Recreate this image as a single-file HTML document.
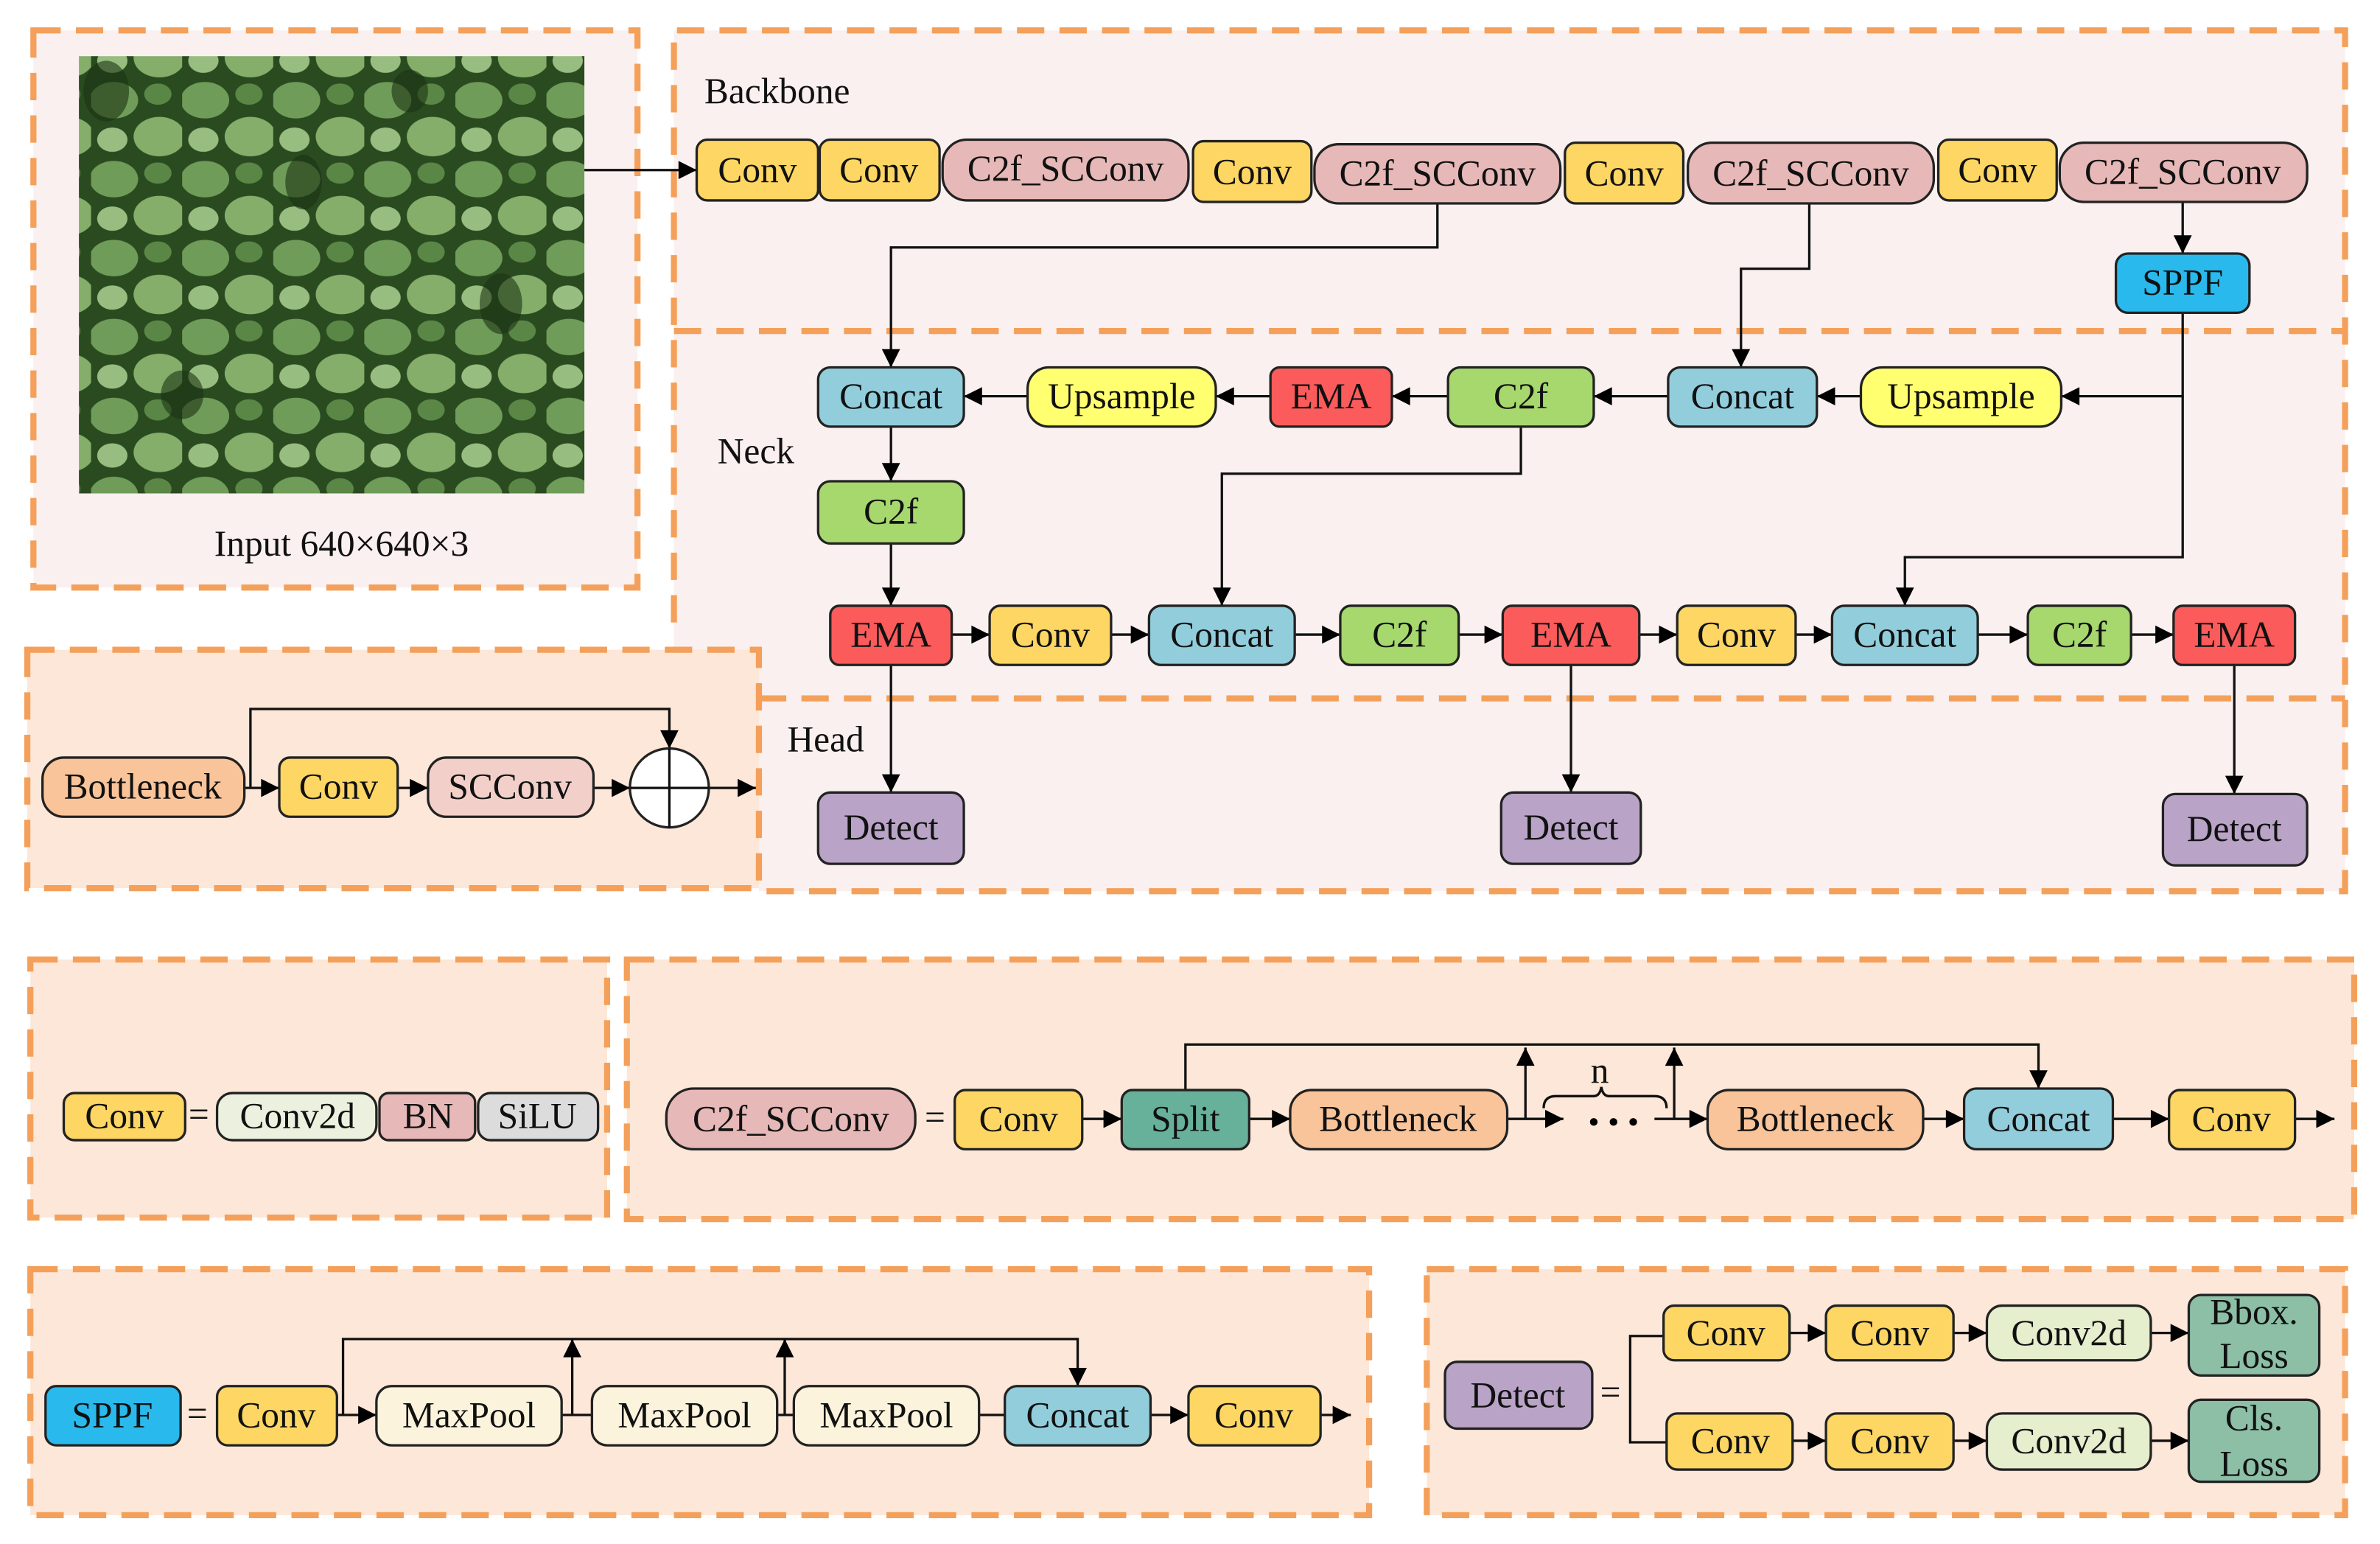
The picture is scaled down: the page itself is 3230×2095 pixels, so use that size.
<!DOCTYPE html>
<html><head><meta charset="utf-8"><style>
html,body{margin:0;padding:0;background:#fff;}
svg{display:block;}
text{font-family:"Liberation Serif",serif;font-size:24px;fill:#111;text-anchor:middle;dominant-baseline:central;}
.b{stroke:#222;stroke-width:1.6;}
.l{stroke:#111;stroke-width:1.6;fill:none;}
.d{fill:none;stroke:#f4a05a;stroke-width:4;stroke-dasharray:18 10;}
</style></head><body>
<svg width="3230" height="2095" viewBox="0 0 1568 1017" preserveAspectRatio="none" xmlns="http://www.w3.org/2000/svg">
<defs>
<marker id="A" viewBox="0 0 10 10" refX="10" refY="5" markerWidth="14" markerHeight="12" markerUnits="userSpaceOnUse" orient="auto"><path d="M0,0L10,5L0,10z" fill="#000"/></marker>
<pattern id="leaf" width="60" height="52" patternUnits="userSpaceOnUse">
<rect width="60" height="52" fill="#2a4a20"/>
<ellipse cx="15" cy="14" rx="16" ry="12" fill="#6f9c58"/>
<ellipse cx="45" cy="38" rx="17" ry="13" fill="#84ae6a"/>
<ellipse cx="44" cy="10" rx="9" ry="7" fill="#5a8746"/>
<ellipse cx="14" cy="40" rx="10" ry="8" fill="#98bd80"/>
</pattern>
</defs>
<rect x="22" y="20" width="398" height="367" fill="#f9f0ef"/>
<path d="M444,20H1545V587H500V460H444Z" fill="#f9f0ef"/>
<rect x="18" y="428" width="482" height="157" fill="#fce7d8"/>
<rect x="20" y="632" width="380" height="170" fill="#fce7d8"/>
<rect x="413" y="632" width="1138" height="171" fill="#fce7d8"/>
<rect x="20" y="836" width="882" height="162" fill="#fce7d8"/>
<rect x="940" y="836" width="605" height="162" fill="#fce7d8"/>
<rect class="d" x="22" y="20" width="398" height="367"/>
<path class="d" d="M444,410V20H1545V587H500"/>
<path class="d" d="M444,218H1545"/>
<path class="d" d="M500,460H1545"/>
<rect class="d" x="18" y="428" width="482" height="157"/>
<rect class="d" x="20" y="632" width="380" height="170"/>
<rect class="d" x="413" y="632" width="1138" height="171"/>
<rect class="d" x="20" y="836" width="882" height="162"/>
<rect class="d" x="940" y="836" width="605" height="162"/>
<rect x="52" y="37" width="333" height="288" fill="url(#leaf)"/>
<g fill="#1c3314" opacity="0.6">
<ellipse cx="70" cy="60" rx="15" ry="20"/><ellipse cx="200" cy="120" rx="12" ry="18"/><ellipse cx="330" cy="200" rx="14" ry="20"/><ellipse cx="120" cy="260" rx="14" ry="16"/><ellipse cx="270" cy="60" rx="12" ry="14"/>
</g>
<text x="225" y="358">Input  640×640×3</text>
<text x="512" y="60">Backbone</text>
<text x="498" y="297">Neck</text>
<text x="544" y="487">Head</text>

<path class="l" d="M385,112H459" marker-end="url(#A)"/>
<path class="l" d="M947,134V163H587V242" marker-end="url(#A)"/>
<path class="l" d="M1192,134V177H1147V242" marker-end="url(#A)"/>
<path class="l" d="M1438,133V167" marker-end="url(#A)"/>
<path class="l" d="M1438,206V261H1358" marker-end="url(#A)"/>
<path class="l" d="M1438,261V367H1255V399" marker-end="url(#A)"/>
<path class="l" d="M1226,261H1197" marker-end="url(#A)"/>
<path class="l" d="M1099,261H1050" marker-end="url(#A)"/>
<path class="l" d="M954,261H917" marker-end="url(#A)"/>
<path class="l" d="M837,261H801" marker-end="url(#A)"/>
<path class="l" d="M677,261H635" marker-end="url(#A)"/>
<path class="l" d="M1002,281V312H805V399" marker-end="url(#A)"/>
<path class="l" d="M587,281V317" marker-end="url(#A)"/>
<path class="l" d="M587,358V399" marker-end="url(#A)"/>
<path class="l" d="M627,418H652" marker-end="url(#A)"/>
<path class="l" d="M732,418H757" marker-end="url(#A)"/>
<path class="l" d="M853,418H883" marker-end="url(#A)"/>
<path class="l" d="M961,418H990" marker-end="url(#A)"/>
<path class="l" d="M1080,418H1105" marker-end="url(#A)"/>
<path class="l" d="M1183,418H1207" marker-end="url(#A)"/>
<path class="l" d="M1303,418H1336" marker-end="url(#A)"/>
<path class="l" d="M1404,418H1432" marker-end="url(#A)"/>
<path class="l" d="M587,438V522" marker-end="url(#A)"/>
<path class="l" d="M1035,438V522" marker-end="url(#A)"/>
<path class="l" d="M1472,438V523" marker-end="url(#A)"/>

<g class="b">
<rect x="459" y="92" width="80" height="40" rx="7" fill="#fdd663"/>
<rect x="540" y="92" width="79" height="40" rx="7" fill="#fdd663"/>
<rect x="621" y="92" width="162" height="40" rx="16" fill="#e6b8b7"/>
<rect x="786" y="93" width="78" height="40" rx="7" fill="#fdd663"/>
<rect x="866" y="95" width="162" height="39" rx="16" fill="#e6b8b7"/>
<rect x="1031" y="94" width="78" height="40" rx="7" fill="#fdd663"/>
<rect x="1112" y="94" width="162" height="40" rx="16" fill="#e6b8b7"/>
<rect x="1277" y="92" width="78" height="40" rx="7" fill="#fdd663"/>
<rect x="1357" y="94" width="163" height="39" rx="16" fill="#e6b8b7"/>
<rect x="1394" y="167" width="88" height="39" rx="8" fill="#29b9ec"/>
<rect x="539" y="242" width="96" height="39" rx="8" fill="#92cddc"/>
<rect x="677" y="242" width="124" height="39" rx="14" fill="#ffff70"/>
<rect x="837" y="242" width="80" height="39" rx="6" fill="#fb5b5b"/>
<rect x="954" y="242" width="96" height="39" rx="8" fill="#a6d86e"/>
<rect x="1099" y="242" width="98" height="39" rx="8" fill="#92cddc"/>
<rect x="1226" y="242" width="132" height="39" rx="14" fill="#ffff70"/>
<rect x="539" y="317" width="96" height="41" rx="8" fill="#a6d86e"/>
<rect x="547" y="399" width="80" height="39" rx="6" fill="#fb5b5b"/>
<rect x="652" y="399" width="80" height="39" rx="7" fill="#fdd663"/>
<rect x="757" y="399" width="96" height="39" rx="8" fill="#92cddc"/>
<rect x="883" y="399" width="78" height="39" rx="7" fill="#a6d86e"/>
<rect x="990" y="399" width="90" height="39" rx="6" fill="#fb5b5b"/>
<rect x="1105" y="399" width="78" height="39" rx="7" fill="#fdd663"/>
<rect x="1207" y="399" width="96" height="39" rx="8" fill="#92cddc"/>
<rect x="1336" y="399" width="68" height="39" rx="7" fill="#a6d86e"/>
<rect x="1432" y="399" width="80" height="39" rx="6" fill="#fb5b5b"/>
<rect x="539" y="522" width="96" height="47" rx="8" fill="#b9a4c7"/>
<rect x="989" y="522" width="92" height="47" rx="8" fill="#b9a4c7"/>
<rect x="1425" y="523" width="95" height="47" rx="8" fill="#b9a4c7"/>
</g>
<text x="499" y="112">Conv</text><text x="579" y="112">Conv</text><text x="702" y="111">C2f_SCConv</text>
<text x="825" y="113">Conv</text><text x="947" y="114">C2f_SCConv</text><text x="1070" y="114">Conv</text>
<text x="1193" y="114">C2f_SCConv</text><text x="1316" y="112">Conv</text><text x="1438" y="113">C2f_SCConv</text>
<text x="1438" y="186">SPPF</text>
<text x="587" y="261">Concat</text><text x="739" y="261">Upsample</text><text x="877" y="261">EMA</text><text x="1002" y="261">C2f</text>
<text x="1148" y="261">Concat</text><text x="1292" y="261">Upsample</text><text x="587" y="337">C2f</text>
<text x="587" y="418">EMA</text><text x="692" y="418">Conv</text><text x="805" y="418">Concat</text><text x="922" y="418">C2f</text>
<text x="1035" y="418">EMA</text><text x="1144" y="418">Conv</text><text x="1255" y="418">Concat</text><text x="1370" y="418">C2f</text><text x="1472" y="418">EMA</text>
<text x="587" y="545">Detect</text><text x="1035" y="545">Detect</text><text x="1472" y="546">Detect</text>

<path class="l" d="M161,519H184" marker-end="url(#A)"/>
<path class="l" d="M262,519H282" marker-end="url(#A)"/>
<path class="l" d="M391,519H415" marker-end="url(#A)"/>
<path class="l" d="M467,519H498" marker-end="url(#A)"/>
<path class="l" d="M165,519V467H441V493" marker-end="url(#A)"/>
<g class="b">
<rect x="28" y="499" width="133" height="39" rx="14" fill="#f9c49a"/>
<rect x="184" y="499" width="78" height="39" rx="7" fill="#fdd663"/>
<rect x="282" y="499" width="109" height="39" rx="12" fill="#f2d0c9"/>
<ellipse cx="441" cy="519" rx="26" ry="26" fill="#fff"/>
</g>
<path class="l" d="M415,519H467M441,493V545"/>
<text x="94" y="518">Bottleneck</text><text x="223" y="518">Conv</text><text x="336" y="518">SCConv</text>

<g class="b">
<rect x="42" y="720" width="80" height="31" rx="7" fill="#fdd663"/>
<rect x="143" y="720" width="105" height="31" rx="10" fill="#ebf1de"/>
<rect x="250" y="720" width="63" height="31" rx="6" fill="#e6b8b7"/>
<rect x="315" y="720" width="79" height="31" rx="8" fill="#dcdcdc"/>
</g>
<text x="82" y="735">Conv</text><text x="131" y="734">=</text><text x="196" y="735">Conv2d</text><text x="282" y="735">BN</text><text x="354" y="735">SiLU</text>

<path class="l" d="M713,737H739" marker-end="url(#A)"/>
<path class="l" d="M823,737H850" marker-end="url(#A)"/>
<path class="l" d="M993,737H1030" marker-end="url(#A)"/>
<path class="l" d="M1090,737H1125" marker-end="url(#A)"/>
<path class="l" d="M1267,737H1294" marker-end="url(#A)"/>
<path class="l" d="M1392,737H1429" marker-end="url(#A)"/>
<path class="l" d="M1512,737H1538" marker-end="url(#A)"/>
<path class="l" d="M781,718V688H1343V717" marker-end="url(#A)"/>
<path class="l" d="M1005,737V690" marker-end="url(#A)"/>
<path class="l" d="M1103,737V690" marker-end="url(#A)"/>
<path class="l" d="M1017,730Q1017,722 1025,722H1050Q1054,722 1055,716Q1056,722 1060,722H1090Q1098,722 1098,730" stroke-width="1.3"/>
<text x="1054" y="705">n</text>
<circle cx="1050" cy="739" r="2.5"/><circle cx="1063" cy="739" r="2.5"/><circle cx="1076" cy="739" r="2.5"/>
<g class="b">
<rect x="439" y="717" width="164" height="40" rx="18" fill="#e6b8b7"/>
<rect x="629" y="718" width="84" height="39" rx="7" fill="#fdd663"/>
<rect x="739" y="718" width="84" height="39" rx="7" fill="#67b09a"/>
<rect x="850" y="718" width="143" height="39" rx="14" fill="#f9c49a"/>
<rect x="1125" y="718" width="142" height="39" rx="14" fill="#f9c49a"/>
<rect x="1294" y="717" width="98" height="40" rx="8" fill="#92cddc"/>
<rect x="1429" y="718" width="83" height="39" rx="7" fill="#fdd663"/>
</g>
<text x="521" y="737">C2f_SCConv</text><text x="616" y="736">=</text><text x="671" y="737">Conv</text><text x="781" y="737">Split</text>
<text x="921" y="737">Bottleneck</text><text x="1196" y="737">Bottleneck</text><text x="1343" y="737">Concat</text><text x="1470" y="737">Conv</text>

<path class="l" d="M222,932H248" marker-end="url(#A)"/>
<path class="l" d="M370,932H390M512,932H523M645,932H662"/>
<path class="l" d="M758,932H783" marker-end="url(#A)"/>
<path class="l" d="M870,932H890" marker-end="url(#A)"/>
<path class="l" d="M226,932V882H710V913" marker-end="url(#A)"/>
<path class="l" d="M377,932V882" marker-end="url(#A)"/>
<path class="l" d="M517,932V882" marker-end="url(#A)"/>
<g class="b">
<rect x="30" y="913" width="89" height="39" rx="7" fill="#29b9ec"/>
<rect x="143" y="913" width="79" height="39" rx="7" fill="#fdd663"/>
<rect x="248" y="913" width="122" height="39" rx="10" fill="#fbf3db"/>
<rect x="390" y="913" width="122" height="39" rx="10" fill="#fbf3db"/>
<rect x="523" y="913" width="122" height="39" rx="10" fill="#fbf3db"/>
<rect x="662" y="913" width="96" height="39" rx="8" fill="#92cddc"/>
<rect x="783" y="913" width="87" height="39" rx="7" fill="#fdd663"/>
</g>
<text x="74" y="932">SPPF</text><text x="130" y="931">=</text><text x="182" y="932">Conv</text><text x="309" y="932">MaxPool</text>
<text x="451" y="932">MaxPool</text><text x="584" y="932">MaxPool</text><text x="710" y="932">Concat</text><text x="826" y="932">Conv</text>

<path class="l" d="M1096,880H1074V950H1098"/>
<path class="l" d="M1179,878H1203" marker-end="url(#A)"/>
<path class="l" d="M1287,878H1309" marker-end="url(#A)"/>
<path class="l" d="M1417,878H1442" marker-end="url(#A)"/>
<path class="l" d="M1181,949H1203" marker-end="url(#A)"/>
<path class="l" d="M1287,949H1309" marker-end="url(#A)"/>
<path class="l" d="M1417,949H1442" marker-end="url(#A)"/>
<g class="b">
<rect x="952" y="897" width="97" height="44" rx="8" fill="#b9a4c7"/>
<rect x="1096" y="860" width="83" height="36" rx="7" fill="#fdd663"/>
<rect x="1203" y="860" width="84" height="36" rx="7" fill="#fdd663"/>
<rect x="1309" y="860" width="108" height="36" rx="10" fill="#e5eecd"/>
<rect x="1442" y="853" width="86" height="53" rx="8" fill="#8dbfa7"/>
<rect x="1098" y="931" width="83" height="37" rx="7" fill="#fdd663"/>
<rect x="1203" y="931" width="84" height="37" rx="7" fill="#fdd663"/>
<rect x="1309" y="931" width="108" height="37" rx="10" fill="#e5eecd"/>
<rect x="1442" y="922" width="86" height="54" rx="8" fill="#8dbfa7"/>
</g>
<text x="1000" y="919">Detect</text><text x="1061" y="917">=</text>
<text x="1137" y="878">Conv</text><text x="1245" y="878">Conv</text><text x="1363" y="878">Conv2d</text>
<text x="1485" y="864">Bbox.</text><text x="1485" y="893">Loss</text>
<text x="1140" y="949">Conv</text><text x="1245" y="949">Conv</text><text x="1363" y="949">Conv2d</text>
<text x="1485" y="934">Cls.</text><text x="1485" y="964">Loss</text>
</svg>
</body></html>
